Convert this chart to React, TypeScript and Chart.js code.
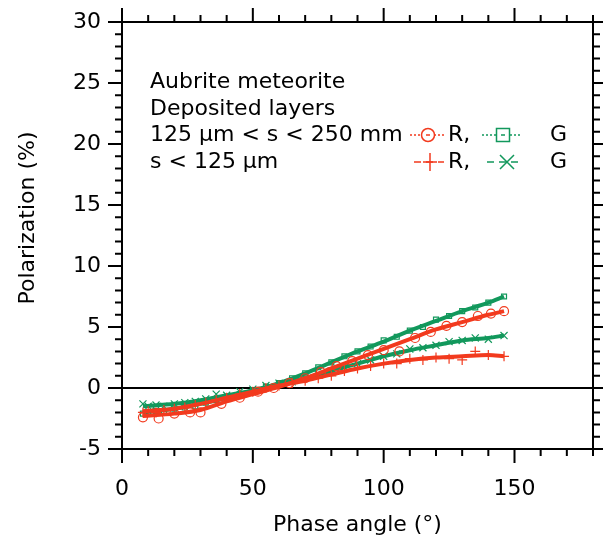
import { useEffect, useRef } from 'react';
import { Chart, registerables } from 'chart.js';
Chart.register(...registerables);

// ---- data ----
const fitAngles = [8, 20, 30, 40, 50, 60, 70, 80, 90, 100, 110, 120, 130, 140, 146];
const fitCoarseG = [-2.0, -1.7, -1.3, -0.8, -0.2, 0.4, 1.2, 2.1, 3.0, 3.8, 4.7, 5.5, 6.3, 7.0, 7.5];
const fitCoarseR = [-2.3, -2.1, -1.8, -1.1, -0.5, 0.1, 0.8, 1.6, 2.4, 3.2, 4.0, 4.8, 5.4, 6.0, 6.3];
const fitFineG = [-1.5, -1.3, -1.0, -0.6, -0.2, 0.3, 0.8, 1.4, 2.0, 2.6, 3.1, 3.5, 3.9, 4.1, 4.3];
const fitFineR = [-1.9, -1.7, -1.3, -0.8, -0.3, 0.2, 0.6, 1.1, 1.6, 2.0, 2.3, 2.5, 2.6, 2.7, 2.6];

const markerAngles = [8, 10, 13, 16, 20, 24, 28, 32, 36, 40, 45, 50, 55, 60, 65, 70, 75, 80, 85, 90, 95, 100, 105, 110, 115, 120, 125, 130, 135, 140, 146];
const coarseG = [-2.1, -2.0, -1.9, -1.9, -1.7, -1.6, -1.5, -1.2, -1.0, -0.8, -0.5, -0.2, 0.1, 0.4, 0.8, 1.2, 1.7, 2.1, 2.6, 3.0, 3.4, 3.9, 4.2, 4.7, 5.0, 5.6, 5.9, 6.3, 6.6, 7.0, 7.5];
const fineG = [-1.3, -1.5, -1.4, -1.5, -1.3, -1.2, -1.1, -0.9, -0.5, -0.6, -0.3, -0.1, 0.2, 0.4, 0.5, 0.8, 1.1, 1.4, 1.7, 2.0, 2.3, 2.6, 2.8, 3.2, 3.3, 3.5, 3.8, 3.9, 4.1, 4.0, 4.3];
const fineR = [-2.0, -1.9, -2.0, -1.8, -1.7, -1.6, -1.4, -1.2, -1.0, -0.8, -0.5, -0.3, 0.0, 0.2, 0.4, 0.6, 0.8, 1.0, 1.4, 1.6, 1.8, 2.0, 2.0, 2.4, 2.3, 2.5, 2.4, 2.3, 3.0, 2.7, 2.6];

const circleAngles = [8, 14, 20, 26, 30, 38, 45, 52, 58, 64, 70, 76, 82, 88, 94, 100, 106, 112, 118, 124, 130, 136, 141, 146];
const coarseR = [-2.4, -2.5, -2.1, -2.0, -2.0, -1.3, -0.8, -0.3, 0.0, 0.4, 0.8, 1.3, 1.8, 2.2, 2.7, 3.1, 3.0, 4.1, 4.6, 5.1, 5.4, 5.9, 6.1, 6.3];

const xTickLabels = ['0', '50', '100', '150'];
const legendLines = ['Aubrite meteorite', 'Deposited layers', '125 μm < s < 250 mm', 's < 125 μm'];
const xTitle = 'Phase angle (°)';
const yTitle = 'Polarization (%)';

const RED = '#f23a1e';
const GREEN = '#12985c';
const FONT = '"DejaVu Sans", sans-serif';
const FS = 22;

const pts = (xs: number[], ys: number[]) => xs.map((x, i) => ({ x, y: ys[i] }));

const decorPlugin = {
  id: 'decor',
  beforeDatasetsDraw(chart: any) {
    const { ctx, chartArea: a, scales } = chart;
    const y0 = scales.y.getPixelForValue(0);
    ctx.save();
    ctx.strokeStyle = '#000';
    ctx.lineWidth = 2;
    ctx.beginPath();
    ctx.moveTo(a.left, y0);
    ctx.lineTo(a.right, y0);
    ctx.stroke();
    ctx.restore();
  },
  afterDraw(chart: any) {
    const { ctx, chartArea: a, scales } = chart;
    const xs = scales.x;
    const ys = scales.y;
    ctx.save();
    ctx.strokeStyle = '#000';
    ctx.lineWidth = 2;
    ctx.strokeRect(a.left, a.top, a.right - a.left, a.bottom - a.top);
    ctx.beginPath();
    for (let v = -5; v <= 30; v += 1) {
      const p = ys.getPixelForValue(v);
      const len = v % 5 === 0 ? 14 : 7;
      ctx.moveTo(a.left - len, p);
      ctx.lineTo(a.left, p);
      ctx.moveTo(a.right, p);
      ctx.lineTo(a.right + len, p);
    }
    for (let v = 0; v <= 180; v += 10) {
      const p = xs.getPixelForValue(v);
      const len = v % 50 === 0 ? 14 : 7;
      ctx.moveTo(p, a.bottom);
      ctx.lineTo(p, a.bottom + len);
      ctx.moveTo(p, a.top - len);
      ctx.lineTo(p, a.top);
    }
    ctx.stroke();

    // axis titles
    ctx.fillStyle = '#000';
    ctx.font = `${FS}px ${FONT}`;
    ctx.textAlign = 'center';
    ctx.textBaseline = 'middle';
    ctx.fillText(xTitle, (a.left + a.right) / 2, 525);
    ctx.save();
    ctx.translate(28, 218);
    ctx.rotate(-Math.PI / 2);
    ctx.fillText(yTitle, 0, 0);
    ctx.restore();

    // legend text
    ctx.textAlign = 'left';
    const rows = [82, 109, 135, 162];
    legendLines.forEach((t, i) => ctx.fillText(t, 150, rows[i]));

    // legend symbols
    const sym = (x1: number, x2: number, y: number, color: string, dash: number[], kind: string, cx: number) => {
      ctx.save();
      ctx.strokeStyle = color;
      ctx.lineWidth = 1.5;
      ctx.setLineDash(dash);
      ctx.beginPath();
      ctx.moveTo(x1, y);
      ctx.lineTo(x2, y);
      ctx.stroke();
      ctx.setLineDash([]);
      ctx.beginPath();
      const r = 7;
      if (kind === 'circle') {
        ctx.fillStyle = '#fff';
        ctx.arc(cx, y, 6.5, 0, Math.PI * 2);
        ctx.fill();
        ctx.stroke();
        ctx.beginPath();
        ctx.moveTo(cx - 2, y);
        ctx.lineTo(cx + 2, y);
        ctx.stroke();
      } else if (kind === 'rect') {
        ctx.fillStyle = '#fff';
        ctx.fillRect(cx - 6.5, y - 6.5, 13, 13);
        ctx.strokeRect(cx - 6.5, y - 6.5, 13, 13);
        ctx.beginPath();
        ctx.moveTo(cx - 2, y);
        ctx.lineTo(cx + 2, y);
        ctx.stroke();
      } else if (kind === 'cross') {
        ctx.moveTo(cx - r, y);
        ctx.lineTo(cx + r, y);
        ctx.moveTo(cx, y - 9);
        ctx.lineTo(cx, y + 9);
        ctx.stroke();
      } else {
        ctx.moveTo(cx - r, y - r);
        ctx.lineTo(cx + r, y + r);
        ctx.moveTo(cx - r, y + r);
        ctx.lineTo(cx + r, y - r);
        ctx.stroke();
      }
      ctx.restore();
    };
    sym(410, 444, 135, RED, [2, 2], 'circle', 428);
    sym(482, 521, 135, GREEN, [2, 2], 'rect', 503);
    sym(414, 444, 162, RED, [7, 5], 'cross', 430);
    sym(487, 523, 162, GREEN, [7, 5], 'crossRot', 507);
    ctx.fillStyle = '#000';
    ctx.fillText('R,', 448, 135);
    ctx.fillText('G', 550, 135);
    ctx.fillText('R,', 448, 162);
    ctx.fillText('G', 550, 162);
    ctx.restore();
  },
};

export default function App() {
  const ref = useRef<HTMLCanvasElement>(null);
  useEffect(() => {
    if (!ref.current) return;
    const fit = (data: number[], color: string) => ({
      data: pts(fitAngles, data),
      borderColor: color,
      borderWidth: 4,
      pointRadius: 0,
      showLine: true,
      cubicInterpolationMode: 'monotone',
      fill: false,
    });
    const mk = (xs: number[], ys: number[], color: string, style: string, r: number) => ({
      data: pts(xs, ys),
      borderColor: color,
      backgroundColor: 'rgba(0,0,0,0)',
      pointStyle: style,
      pointRadius: r,
      pointBorderWidth: 1.2,
      showLine: false,
    });
    const chart = new Chart(ref.current, {
      type: 'scatter',
      data: {
        datasets: [
          mk(markerAngles, fineR, RED, 'cross', 5),
          mk(circleAngles, coarseR, RED, 'circle', 4.5),
          fit(fitFineR, RED),
          fit(fitCoarseR, RED),
          mk(markerAngles, fineG, GREEN, 'crossRot', 5),
          mk(markerAngles, coarseG, GREEN, 'rect', 3.5),
          fit(fitFineG, GREEN),
          fit(fitCoarseG, GREEN),
        ] as any,
      },
      plugins: [decorPlugin],
      options: {
        animation: false,
        responsive: false,
        events: [],
        layout: { padding: { left: 0, top: 22, right: 10, bottom: 0 } },
        plugins: { legend: { display: false }, tooltip: { enabled: false } },
        scales: {
          x: {
            type: 'linear',
            min: 0,
            max: 180,
            grid: { display: false, drawTicks: false },
            border: { display: false },
            ticks: {
              stepSize: 50,
              color: '#000',
              font: { family: FONT, size: FS },
              padding: 27,
              maxRotation: 0,
              callback: (v: number) => (xTickLabels.includes(String(v)) ? String(v) : ''),
            },
            afterFit: (s: any) => {
              s.height = 92;
              s.paddingLeft = 0;
              s.paddingRight = 0;
            },
          },
          y: {
            min: -5,
            max: 30,
            grid: { display: false, drawTicks: false },
            border: { display: false },
            ticks: { stepSize: 5, color: '#000', font: { family: FONT, size: FS }, padding: 21 },
            afterFit: (s: any) => {
              s.width = 122;
              s.paddingTop = 0;
              s.paddingBottom = 0;
            },
          },
        },
      } as any,
    });
    return () => chart.destroy();
  }, []);
  return (
    <div style={{ position: 'absolute', left: 0, top: 0, width: 603, height: 541 }}>
      <canvas ref={ref} width={603} height={541} />
    </div>
  );
}
